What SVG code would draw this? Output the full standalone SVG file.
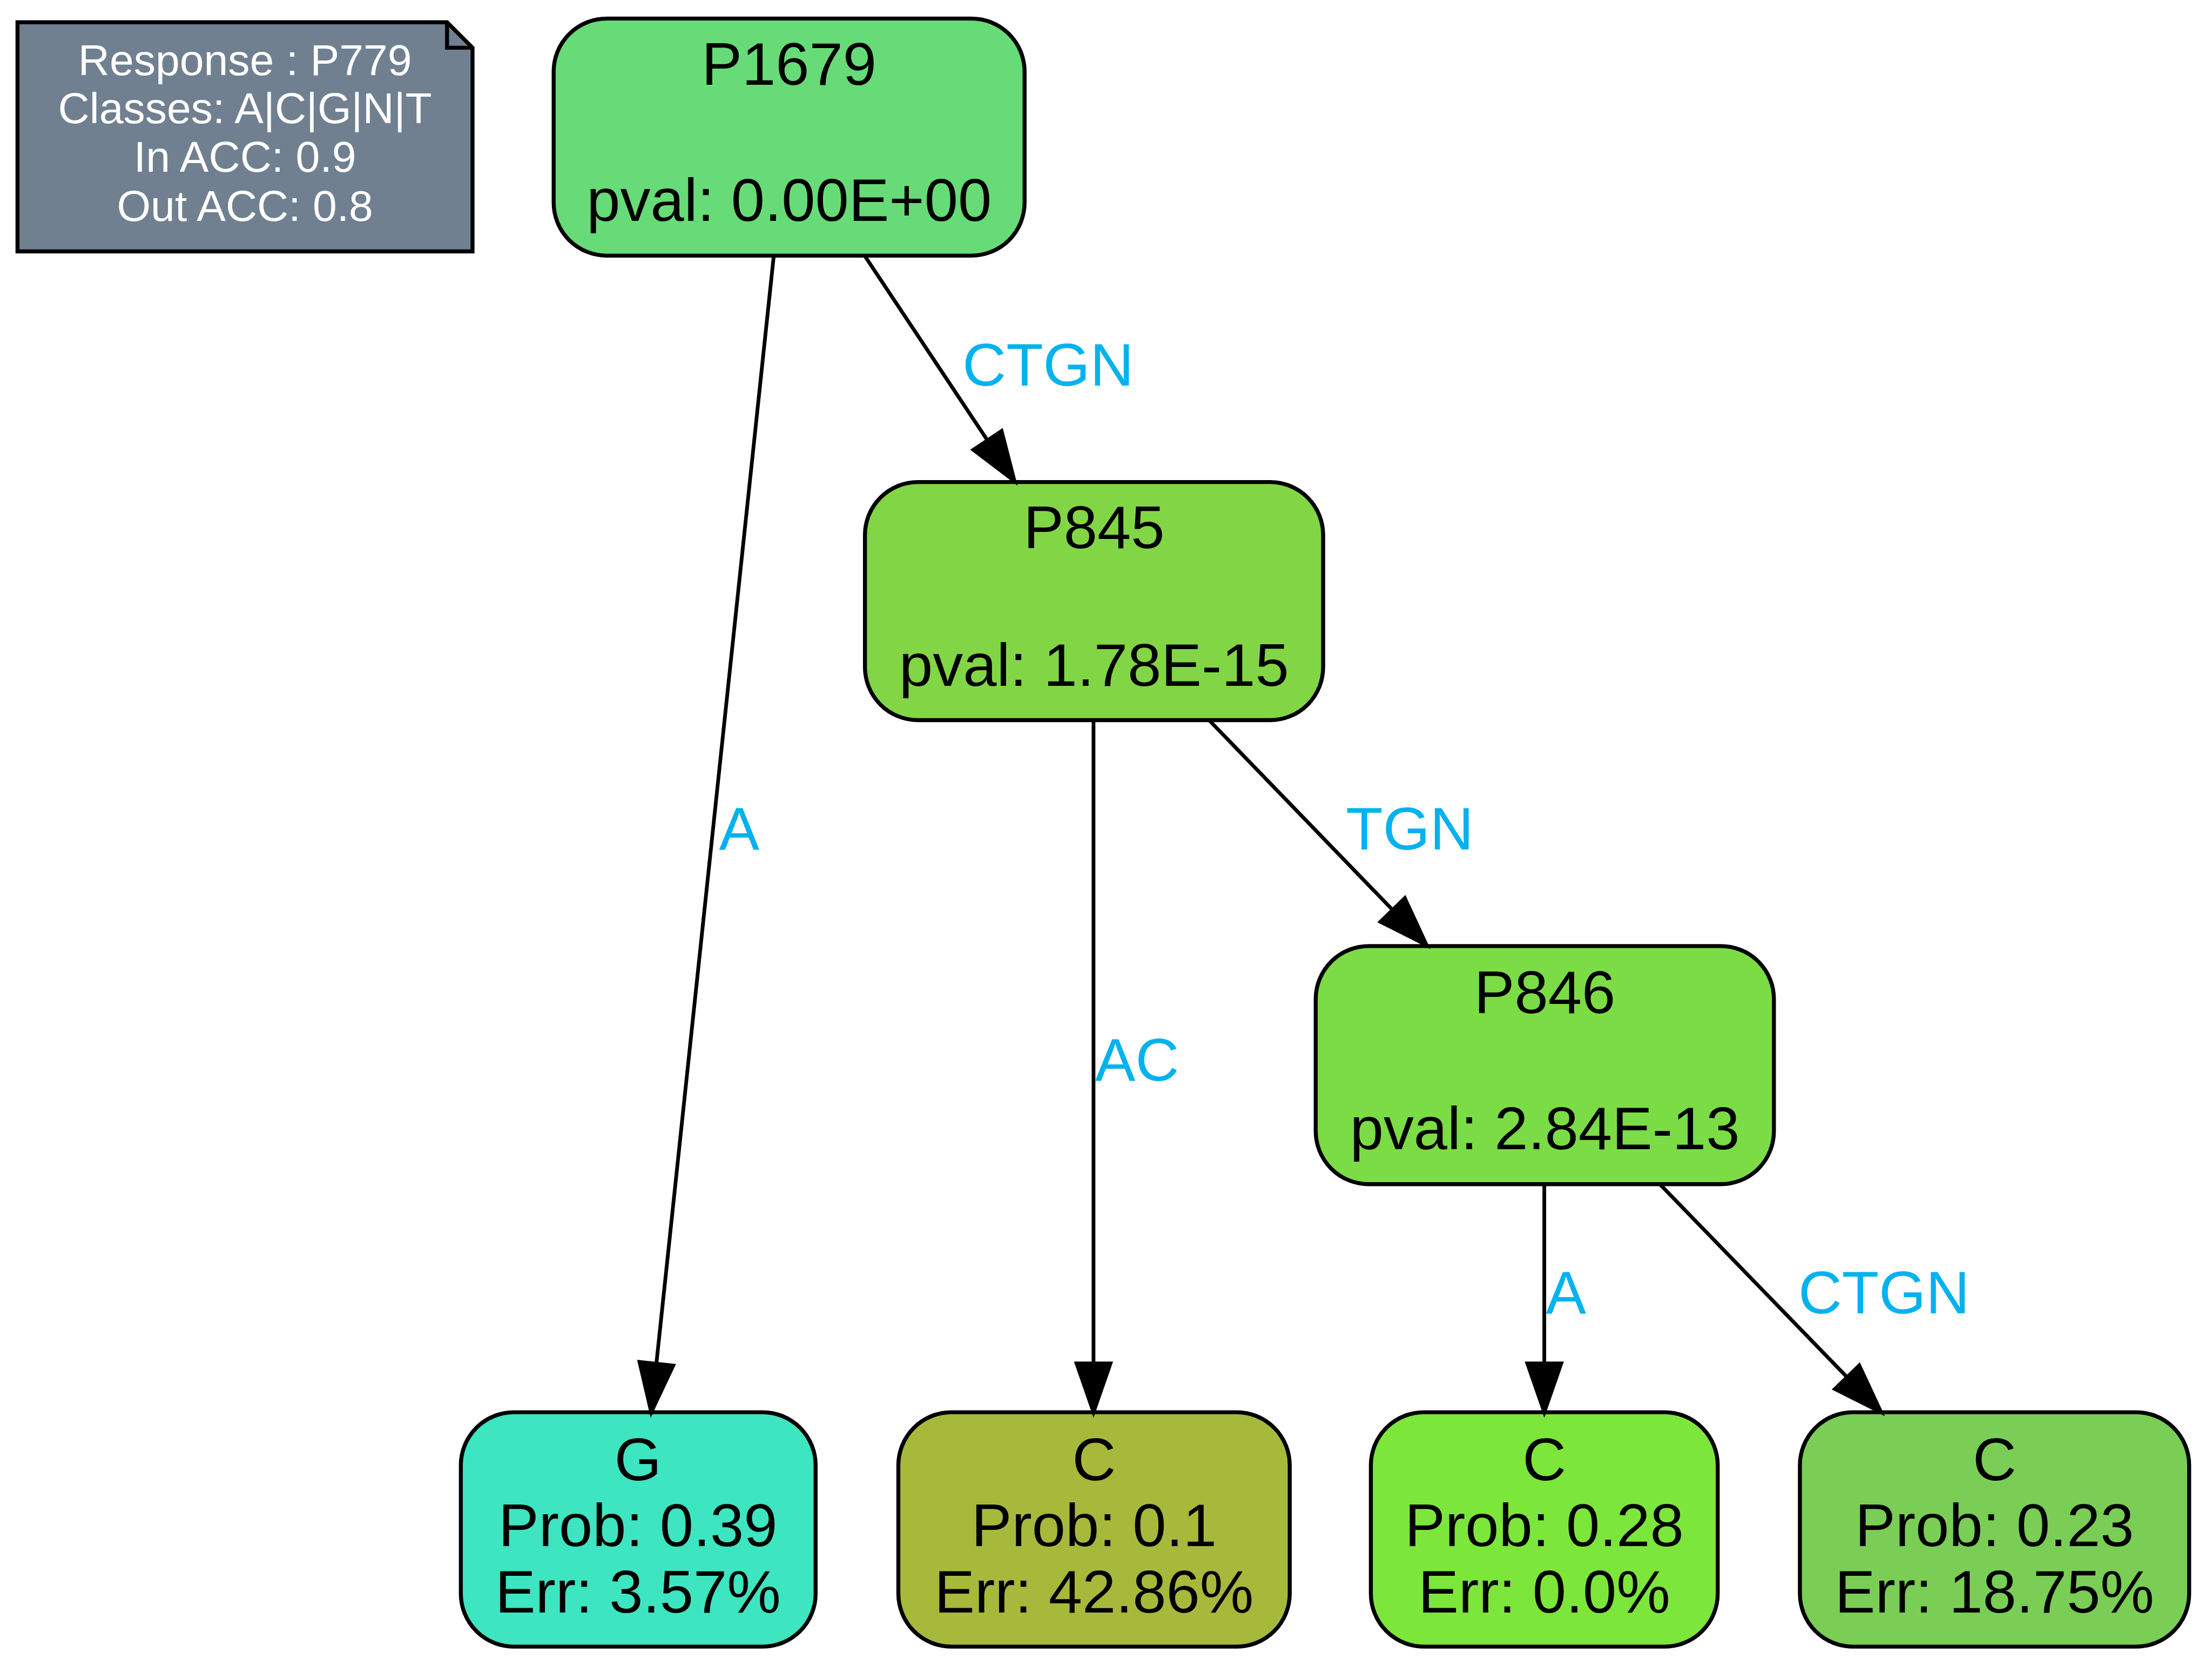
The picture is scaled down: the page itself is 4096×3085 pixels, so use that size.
<svg xmlns="http://www.w3.org/2000/svg" width="4096" height="3085" viewBox="0 0 4096 3085">
<defs>
<style>
.node{stroke:#000;stroke-width:7.5}
.t{font-family:"Liberation Sans",Arial,Helvetica,sans-serif;font-size:114px;fill:#000;text-anchor:middle}
.nt{font-family:"Liberation Sans",Arial,Helvetica,sans-serif;font-size:82px;fill:#fff;text-anchor:middle}
.el{font-family:"Liberation Sans",Arial,Helvetica,sans-serif;font-size:114px;fill:#00b2ee}
.edge{fill:none;stroke:#000;stroke-width:7}
</style>
<marker id="ah" markerUnits="userSpaceOnUse" viewBox="-10 -45 115 90" markerWidth="115" markerHeight="90" refX="92" refY="0" orient="auto" overflow="visible">
<path d="M0,-32 L92,0 L0,32 Z" fill="#000" stroke="#000" stroke-width="7"/>
</marker>
</defs>
<rect x="0" y="0" width="4096" height="3085" fill="#fff"/>
<g transform="scale(0.982)">
<g id="legend">
<polygon points="891,90 843,42 33,42 33,474 891,474" fill="#708090" stroke="#000" stroke-width="7.5"/>
<polyline points="843,42 843,90 891,90" fill="none" stroke="#000" stroke-width="7.5"/>
<text class="nt" x="462" y="142">Response : P779</text>
<text class="nt" x="462" y="232">Classes: A|C|G|N|T</text>
<text class="nt" x="462" y="324">In ACC: 0.9</text>
<text class="nt" x="462" y="417">Out ACC: 0.8</text>
</g>
<g id="node-P1679">
<rect class="node" x="1044" y="35" width="888" height="447" rx="100" ry="100" fill="#67db77"/>
<text class="t" x="1488" y="160">P1679</text>
<text class="t" x="1488" y="417">pval: 0.00E+00</text>
</g>
<g id="node-P845">
<rect class="node" x="1631" y="909" width="864" height="449" rx="100" ry="100" fill="#82d645"/>
<text class="t" x="2063" y="1034">P845</text>
<text class="t" x="2063" y="1293">pval: 1.78E-15</text>
</g>
<g id="node-P846">
<rect class="node" x="2481" y="1784" width="864" height="449" rx="100" ry="100" fill="#7bdc45"/>
<text class="t" x="2913" y="1910">P846</text>
<text class="t" x="2913" y="2167">pval: 2.84E-13</text>
</g>
<g id="leaf-G">
<rect class="node" x="869" y="2663" width="669" height="442" rx="100" ry="100" fill="#3de5c1"/>
<text class="t" x="1203" y="2791">G</text>
<text class="t" x="1203" y="2915">Prob: 0.39</text>
<text class="t" x="1203" y="3041">Err: 3.57%</text>
</g>
<g id="leaf-C1">
<rect class="node" x="1694" y="2663" width="738" height="442" rx="100" ry="100" fill="#a7b93a"/>
<text class="t" x="2063" y="2791">C</text>
<text class="t" x="2063" y="2915">Prob: 0.1</text>
<text class="t" x="2063" y="3041">Err: 42.86%</text>
</g>
<g id="leaf-C2">
<rect class="node" x="2585" y="2663" width="654" height="442" rx="100" ry="100" fill="#7de63a"/>
<text class="t" x="2912" y="2791">C</text>
<text class="t" x="2912" y="2915">Prob: 0.28</text>
<text class="t" x="2912" y="3041">Err: 0.0%</text>
</g>
<g id="leaf-C3">
<rect class="node" x="3394" y="2663" width="734" height="442" rx="100" ry="100" fill="#7ace55"/>
<text class="t" x="3761" y="2791">C</text>
<text class="t" x="3761" y="2915">Prob: 0.23</text>
<text class="t" x="3761" y="3041">Err: 18.75%</text>
</g>
<g id="edges">
<path class="edge" d="M1459,483 L1228,2663" marker-end="url(#ah)"/>
<text class="el" x="1356" y="1602">A</text>
<path class="edge" d="M1631,483 L1913,907" marker-end="url(#ah)"/>
<text class="el" x="1815" y="727">CTGN</text>
<path class="edge" d="M2062,1358 L2062,2663" marker-end="url(#ah)"/>
<text class="el" x="2065" y="2038">AC</text>
<path class="edge" d="M2280,1358 L2690,1782" marker-end="url(#ah)"/>
<text class="el" x="2538" y="1602">TGN</text>
<path class="edge" d="M2912,2233 L2912,2663" marker-end="url(#ah)"/>
<text class="el" x="2915" y="2477">A</text>
<path class="edge" d="M3130,2233 L3547,2663" marker-end="url(#ah)"/>
<text class="el" x="3391" y="2477">CTGN</text>
</g>
</g>
</svg>
